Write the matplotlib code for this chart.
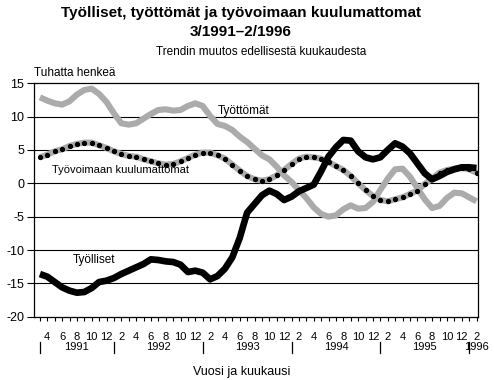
import matplotlib
matplotlib.use("Agg")
import matplotlib.pyplot as plt
import matplotlib.transforms as mtransforms

plt.rcParams['font.family'] = ['Liberation Sans', 'DejaVu Sans']

# Monthly data 3/1991 - 2/1996 (trend change from previous month, thousands)
start_year = 1991
start_month = 3

tyolliset = [
    -13.6, -14.0, -14.8, -15.6, -16.1, -16.4, -16.3, -15.7, -14.8, -14.6,
    -14.2, -13.6, -13.1, -12.6, -12.1, -11.4, -11.5, -11.7, -11.8, -12.2,
    -13.3, -13.1, -13.4, -14.4, -13.9, -12.8, -11.1, -8.2, -4.4, -3.1,
    -1.8, -1.1, -1.6, -2.5, -2.0, -1.2, -0.7, -0.2, 1.8, 4.0,
    5.4, 6.5, 6.4, 4.8, 3.9, 3.6, 3.9, 5.0, 6.0, 5.5,
    4.5, 3.0, 1.5, 0.6, 1.1, 1.7, 2.1, 2.4, 2.4, 2.3,
]

tyottomat = [
    12.9, 12.4, 12.0, 11.8, 12.3, 13.3, 14.0, 14.2, 13.4, 12.2,
    10.5, 9.0, 8.8, 9.0, 9.7, 10.4, 11.0, 11.1, 10.9, 11.0,
    11.6, 12.0, 11.6, 10.1, 8.9, 8.6, 8.0, 7.0, 6.2, 5.2,
    4.2, 3.6, 2.5, 1.2, 0.2, -1.0, -2.2, -3.6, -4.6, -5.0,
    -4.8, -3.9, -3.3, -3.8, -3.7, -2.8, -1.0, 0.7, 2.1, 2.2,
    1.0, -0.7, -2.4, -3.7, -3.4, -2.2, -1.4, -1.5, -2.1, -2.7,
]

kuulumattomat = [
    3.9, 4.3, 4.8, 5.1, 5.6, 5.9, 6.1, 6.1, 5.7, 5.3,
    4.8, 4.4, 4.1, 4.0, 3.6, 3.3, 3.0, 2.8, 2.9, 3.3,
    3.8, 4.3, 4.6, 4.6, 4.2, 3.7, 2.8, 1.9, 1.1, 0.6,
    0.4, 0.6, 1.2, 2.0, 2.9, 3.7, 4.0, 3.9, 3.7, 3.2,
    2.6, 2.0, 1.1, 0.0, -1.0, -1.9, -2.5, -2.7, -2.4, -2.1,
    -1.6, -1.1, -0.1, 0.7, 1.6, 2.0, 2.2, 2.3, 2.1, 1.6,
]

y_ticks = [15, 10, 5, 0, -5, -10, -15, -20]

n = len(tyolliset)
x = list(range(n))
months = [(start_month - 1 + i) % 12 + 1 for i in x]
years = [start_year + (start_month - 1 + i) // 12 for i in x]
month_labels = [str(m) if m % 2 == 0 else "" for m in months]

fig = plt.figure(figsize=(4.94, 3.8), dpi=100)
ax = fig.add_axes([0.0688, 0.1666, 0.8988, 0.6142])

gray = "#ababab"
for yv in y_ticks[1:-1]:
    ax.axhline(yv, color="black", lw=0.8, zorder=1)

ax.plot(x, tyottomat, color=gray, lw=4.4, solid_capstyle="butt", zorder=2)
ax.plot(x, kuulumattomat, color=gray, lw=4.4, solid_capstyle="butt", zorder=3)
ax.plot(x, kuulumattomat, linestyle="none", marker="o", ms=2.8,
        color="black", zorder=4)
ax.plot(x, tyolliset, color="black", lw=4.8, solid_capstyle="butt", zorder=5)

ax.set_xlim(-0.8, n - 0.8)
ax.set_ylim(-20, 15)
ax.set_yticks(y_ticks)
ax.set_yticklabels([str(v) for v in y_ticks], fontsize=9)
ax.set_xticks(x)
ax.set_xticklabels(month_labels, fontsize=8)
ax.tick_params(axis="y", direction="out", length=5, width=0.8, pad=2)
ax.tick_params(axis="x", direction="out", length=3, width=0.8, pad=8)
for sp in ax.spines.values():
    sp.set_linewidth(0.9)

# year separators and year labels under the month labels
trans = mtransforms.blended_transform_factory(ax.transData, ax.transAxes)
year_list = sorted(set(years))
for yr in year_list:
    idx = [i for i in x if years[i] == yr]
    first, last = idx[0], idx[-1]
    ax.plot([first, first], [-0.107, -0.154], color="black", lw=0.9,
            transform=trans, clip_on=False)
    ax.text((first + last + 1) / 2, -0.128, str(yr), transform=trans,
            ha="center", va="center", fontsize=8)

ax.text(24, 10.0, "Työttömät", ha="left", va="bottom", fontsize=8.5)
ax.text(1.6, 2.0, "Työvoimaan kuulumattomat", ha="left", va="center", fontsize=8)
ax.text(4.4, -11.5, "Työlliset", ha="left", va="center", fontsize=8.5)
ax.text(-0.8, 15.6, "Tuhatta henkeä", ha="left", va="bottom", fontsize=8.5)

fig.text(0.488, 0.966, "Työlliset, työttömät ja työvoimaan kuulumattomat",
         ha="center", va="center", fontsize=11, fontweight="bold")
fig.text(0.488, 0.916, "3/1991–2/1996", ha="center", va="center",
         fontsize=11, fontweight="bold")
fig.text(0.528, 0.863, "Trendin muutos edellisestä kuukaudesta",
         ha="center", va="center", fontsize=8.5)
fig.text(0.49, 0.022, "Vuosi ja kuukausi", ha="center", va="center", fontsize=9)

fig.savefig("out.png", dpi=100)
